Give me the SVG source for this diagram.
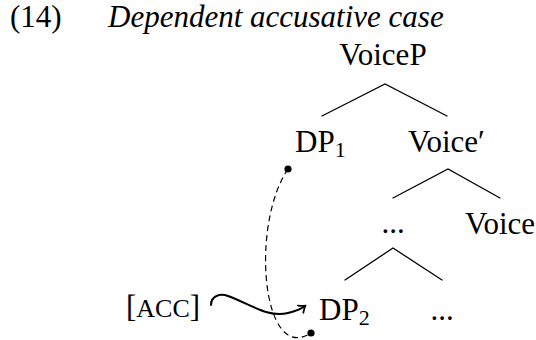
<svg xmlns="http://www.w3.org/2000/svg" width="536" height="340" viewBox="0 0 536 340">
  <style>
    text { font-family: "Liberation Serif", Tinos, "Times New Roman", "DejaVu Serif", serif; font-size: 31px; fill: #000; }
    .it { font-style: italic; }
    .sub { font-size: 22px; }
    .sc { font-size: 26px; }
    .branch { stroke: #000; stroke-width: 1.3; fill: none; stroke-linecap: round; }
    .dash { stroke: #000; stroke-width: 1.2; fill: none; stroke-dasharray: 6 4; }
    .arrow { stroke: #000; stroke-width: 2; fill: none; stroke-linecap: round; }
  </style>
  <defs>
    <marker id="tip" viewBox="-6 -6 8 12" markerWidth="8" markerHeight="12" refX="0" refY="0" orient="auto" markerUnits="userSpaceOnUse">
      <path d="M -5.5 -4.5 Q -1.5 -1 0.5 0 Q -1.5 1 -5.5 4.5" fill="none" stroke="#000" stroke-width="1.8" stroke-linecap="round"/>
    </marker>
  </defs>

  <!-- example heading -->
  <g id="heading" font-family="Liberation Serif, serif">
    <text x="10" y="27">(14)</text>
    <text x="108" y="27" class="it">Dependent accusative case</text>
  </g>

  <!-- tree branches -->
  <g id="branches">
    <path class="branch" d="M 322 116 L 385 84 L 447 116"/>
    <path class="branch" d="M 393 198 L 448 169 L 500 198"/>
    <path class="branch" d="M 345 280 L 393 248 L 442 280"/>
  </g>

  <g id="voiceP"><text x="383" y="65" text-anchor="middle">VoiceP</text></g>
  <g id="dp1"><text x="295" y="152">DP<tspan class="sub" dy="5">1</tspan></text></g>
  <g id="voiceBar"><text x="408" y="152">Voice′</text></g>
  <g id="dots1"><text x="393" y="233" text-anchor="middle">...</text></g>
  <g id="voice"><text x="500" y="234" text-anchor="middle">Voice</text></g>
  <g id="dp2"><text x="319" y="320">DP<tspan class="sub" dy="5">2</tspan></text></g>
  <g id="dots2"><text x="442" y="320" text-anchor="middle">...</text></g>
  <g id="acc"><text x="126" y="317">[<tspan class="sc">ACC</tspan>]</text></g>

  <!-- connectors -->
  <g id="connectors">
    <path class="dash" d="M 288 169 C 250 225 262 365 311 333"/>
    <circle cx="288" cy="169" r="3.6" fill="#000"/>
    <circle cx="311" cy="333" r="3.6" fill="#000"/>
    <path class="arrow" marker-end="url(#tip)" d="M 211 305 C 211 296 220 293 228 296 C 250 304 268 318 288 313 C 296 311 301 309 305 306"/>
  </g>
</svg>
